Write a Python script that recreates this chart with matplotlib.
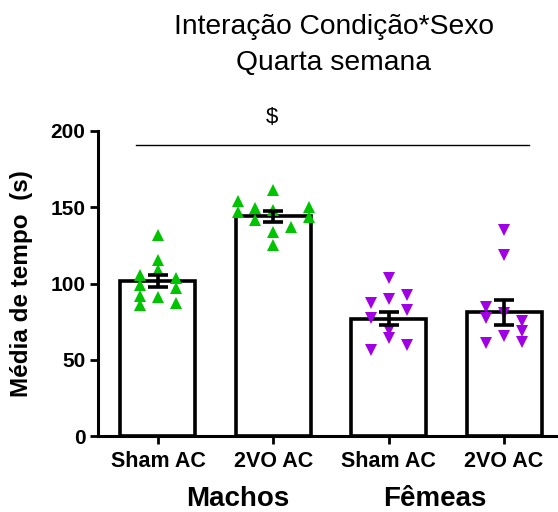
import matplotlib
matplotlib.use("Agg")
import matplotlib.pyplot as plt
import numpy as np

plt.rcParams['font.family'] = ['Liberation Sans', 'DejaVu Sans']

# Groups and summary statistics (mean ± SEM)
groups = ["Sham AC", "2VO AC", "Sham AC", "2VO AC"]
sexes = ["Machos", "Fêmeas"]
means = [101.5, 144.0, 77.0, 81.0]
sems = [3.9, 3.6, 4.4, 8.5]

# Individual animals per group
machos_sham = [131.8, 115.4, 108.9, 105.6, 99.0, 91.8, 85.9, 91.1, 103.6, 97.0, 87.2]
machos_2vo = [161.3, 154.1, 147.1, 149.3, 141.6, 148.2, 134.0, 125.2, 137.3, 150.4, 143.8]
femeas_sham = [103.4, 87.0, 89.6, 92.5, 82.6, 77.2, 69.5, 64.1, 56.4, 59.7]
femeas_2vo = [135.1, 118.7, 84.8, 77.2, 80.5, 60.8, 65.8, 75.4, 68.9, 61.9]

# Scatter column of each point inside its bar (-1 left, 0 centre, 1 right ...)
cols_machos_sham = [0, 0, 0, -1, -1, -1, -1, 0, 1, 1, 1]
cols_machos_2vo = [0, -2, -2, -1, -1, 0, 0, 0, 1, 2, 2]
cols_femeas_sham = [0, -1, 0, 1, 1, -1, 0, 0, -1, 1]
cols_femeas_2vo = [0, 0, -1, -1, 0, -1, 0, 1, 1, 1]

points = [machos_sham, machos_2vo, femeas_sham, femeas_2vo]
columns = [cols_machos_sham, cols_machos_2vo, cols_femeas_sham, cols_femeas_2vo]
markers = ["^", "^", "v", "v"]
colors = ["#00C400", "#00C400", "#A000E4", "#A000E4"]

fig = plt.figure(figsize=(5.58, 5.12), dpi=100)
ax = fig.add_axes([98 / 558, 76 / 512, 458 / 558, 305 / 512])

x = np.arange(len(groups))
col_step = 0.155

ax.bar(x, means, width=0.65, facecolor="white", edgecolor="black",
       linewidth=2.6, zorder=1)

for i in range(len(groups)):
    xs = x[i] + col_step * np.array(columns[i])
    ax.plot(xs, points[i], linestyle="none", marker=markers[i], ms=8,
            color=colors[i], markeredgewidth=0, zorder=2)

ax.errorbar(x, means, yerr=sems, fmt="none", ecolor="black", elinewidth=2.6,
            capsize=7, capthick=2.6, zorder=3)

ax.set_xlim(-0.52, 3.45)
ax.set_ylim(0, 200)
ax.set_yticks([0, 50, 100, 150, 200])
ax.set_xticks(x)
ax.set_xticklabels(groups, fontsize=15.5, fontweight="bold")
for lab in ax.get_yticklabels():
    lab.set_fontsize(15)
    lab.set_fontweight("bold")

for side in ["top", "right"]:
    ax.spines[side].set_visible(False)
for side in ["left", "bottom"]:
    ax.spines[side].set_linewidth(2.2)
ax.tick_params(axis="both", width=2.0, length=6, pad=3)
ax.tick_params(axis="x", pad=5)

ax.set_ylabel("Média de tempo  (s)", fontsize=17.5, fontweight="bold")
ax.yaxis.set_label_coords(-0.142, 0.5)

# Significance bar across the four groups
ax.plot([-0.19, 3.22], [190.8, 190.8], color="black", linewidth=1.0,
        clip_on=False)
ax.text(0.99, 209, "$", ha="center", va="center", fontsize=16, clip_on=False)

# Sex labels under the group ticks
fig.text(238 / 558, 1 - 506 / 512, sexes[0], ha="center", va="baseline",
         fontsize=20, fontweight="bold")
fig.text(435 / 558, 1 - 506 / 512, sexes[1], ha="center", va="baseline",
         fontsize=20, fontweight="bold")

fig.text(334 / 558, 1 - 27 / 512, "Interação Condição*Sexo", ha="center",
         va="center", fontsize=20.3)
fig.text(334 / 558, 1 - 63 / 512, "Quarta semana", ha="center",
         va="center", fontsize=20.3)

fig.savefig("out.png", dpi=100)
